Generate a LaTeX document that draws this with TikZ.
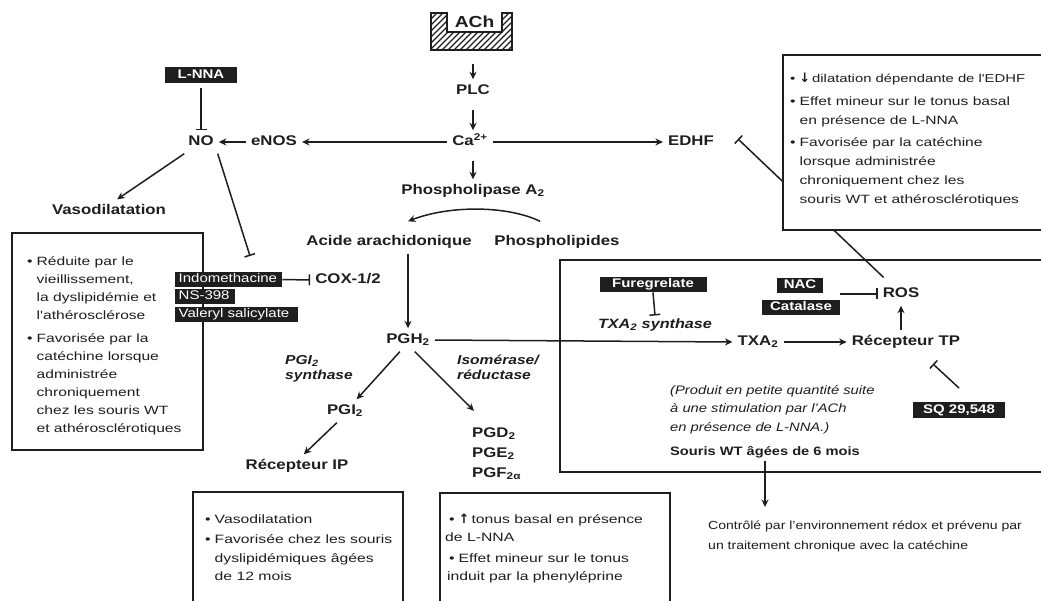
\documentclass[tikz,border=0pt]{standalone}
\usepackage{fontspec}
\setmainfont{Liberation Sans}[FakeStretch=1.2]
\newfontfamily\notefont{Liberation Sans}[FakeStretch=1.3]
\newfontfamily\arrowfont{DejaVu Sans}
\usetikzlibrary{arrows.meta,calc}
\definecolor{ink}{HTML}{1E1E1E}
\newcommand\bulitem{•\hspace{4pt}}
\newcommand\bulcont{\phantom{•}\hspace{4pt}}

\begin{document}
\begin{tikzpicture}[x=1pt,y=-1pt,
  every node/.style={text=ink},
  lbl/.style={font=\fontsize{14}{16}\selectfont\bfseries, text height=10pt, text depth=3pt, inner xsep=5pt, inner ysep=5pt},
  itl/.style={font=\fontsize{13}{15.5}\selectfont\bfseries\itshape, inner sep=0pt, anchor=base west},
  blk/.style={fill=ink, text=white, font=\fontsize{12.5}{14}\selectfont\bfseries, text height=9pt, text depth=2.5pt, inner xsep=0pt, inner ysep=2pt},
  blkr/.style={blk, font=\fontsize{12.5}{14}\selectfont, anchor=west, inner xsep=3.5pt},
  frame/.style={draw=ink, line width=1.4pt},
  boxtxt/.style={inner sep=0pt, anchor=base west},
  conn/.style={draw=ink, line width=1.5pt},
  arr/.style={conn, -{Stealth[length=7.5pt,width=7pt]}},
  inh/.style={conn, -{Bar[width=11pt]}},
]
\useasboundingbox (0,0) rectangle (1041,601);
\clip (0,0) rectangle (1041,601);

% ---------- left commentary box (under the COX inhibitor labels) ----------
\draw[frame, fill=white] (12,233) rectangle (203,450);
\node[boxtxt, font=\notefont\fontsize{12}{18}\selectfont] (nonote) at (27,266)
  {\begin{tabular}[t]{@{}l@{}}
  \bulitem Réduite par le\\
  \bulcont vieillissement,\\
  \bulcont la dyslipidémie et\\
  \bulcont l'athérosclérose\\[5pt]
  \bulitem Favorisée par la\\
  \bulcont catéchine lorsque\\
  \bulcont administrée\\
  \bulcont chroniquement\\
  \bulcont chez les souris WT\\
  \bulcont et athérosclérotiques
  \end{tabular}};

% ---------- receptor block with ACh ----------
\node[minimum width=81pt, minimum height=37pt, inner sep=0pt] (achbox) at (471.5,31.5) {};
\begin{scope}
  \clip (achbox.north west) -- ++(16,0) -- ++(0,19) -- ++(55,0) -- ++(0,-19)
        -- (achbox.north east) -- (achbox.south east) -- (achbox.south west) -- cycle;
  \foreach \i in {376,382,...,520} \draw[ink, line width=1.3pt] (\i,56) -- ++(50,-50);
\end{scope}
\draw[ink, line width=1.5pt] (achbox.north west) -- ++(16,0) -- ++(0,19) -- ++(55,0) -- ++(0,-19)
      -- (achbox.north east) -- (achbox.south east) -- (achbox.south west) -- cycle;
\node[font=\fontsize{16}{18}\selectfont\bfseries, inner sep=0pt] (ach) at (474.5,22) {ACh};

% ---------- main cascade ----------
\node[lbl] (plc)  at (473,91)  {PLC};
\node[lbl] (ca)   at (470,142) {Ca\textsuperscript{2+}};
\node[lbl] (pla)  at (473,191) {Phospholipase A\textsubscript{2}};
\node[lbl] (aa)   at (389,242) {Acide arachidonique};
\node[lbl] (pl)   at (557,242) {Phospholipides};
\node[lbl] (cox)  at (348,280) {COX-1/2};
\node[lbl] (pgh)  at (408,340) {PGH\textsubscript{2}};
\node[lbl] (pgi)  at (345,411) {PGI\textsubscript{2}};
\node[lbl] (rip)  at (297,466) {Récepteur IP};
\node[inner sep=3pt, anchor=base west, font=\fontsize{14}{20}\selectfont\bfseries] (pgd) at (469,437)
  {\begin{tabular}[t]{@{}l@{}}PGD\textsubscript{2}\\PGE\textsubscript{2}\\PGF\textsubscript{2α}\end{tabular}};
\coordinate (pgdin) at ($(pgd.north west)+(5,-9)$);

\node[itl] (pgisyn) at (285,364) {\begin{tabular}[t]{@{}l@{}}PGI\textsubscript{2}\\synthase\end{tabular}};
\node[itl] (isom)   at (457,364) {\begin{tabular}[t]{@{}l@{}}Isomérase/\\réductase\end{tabular}};

% ---------- NO branch ----------
\node[lbl] (no)   at (201,142) {NO};
\node[lbl] (enos) at (274,142) {eNOS};
\node[blk, minimum width=72pt] (lnna) at (201,75) {L-NNA};
\node[lbl] (vaso) at (109,211) {Vasodilatation};

% ---------- COX inhibitors ----------
\node[blkr, minimum width=107pt, text width=100pt] (indo)  at (175,279.5) {Indomethacine};
\node[blkr, minimum width=60pt,  text width=53pt]  (ns)    at (175,296.5) {NS-398};
\node[blkr, minimum width=123pt, text width=116pt] (valer) at (175,314.5) {Valeryl salicylate};

% ---------- EDHF ----------
\node[lbl] (edhf) at (691,142) {EDHF};

% ---------- thromboxane block ----------
\draw[frame] (560,260) rectangle (1060,472);
\node[lbl] (txa) at (758,342) {TXA\textsubscript{2}};
\node[lbl] (rtp) at (906,342) {Récepteur TP};
\node[lbl] (ros) at (901,294) {ROS};
\node[blk, minimum width=46pt] (nac) at (800,285.5) {NAC};
\node[blk, minimum width=78pt] (cat) at (801,307.5) {Catalase};
\node[blk, minimum width=107pt] (fur) at (653,284.5) {Furegrelate};
\node[font=\fontsize{13.5}{16}\selectfont\bfseries\itshape, inner xsep=4pt, inner ysep=3pt] (txs) at (655,325) {TXA\textsubscript{2} synthase};
\node[blk, minimum width=92pt] (sq) at (959,410) {SQ 29,548};
\node[boxtxt, font=\fontsize{12.3}{18.5}\selectfont\itshape] (prod) at (670,394)
  {\begin{tabular}[t]{@{}l@{}}(Produit en petite quantité suite\\à une stimulation par l'ACh\\en présence de L-NNA.)\end{tabular}};
\node[font=\fontsize{12.2}{14}\selectfont\bfseries, inner sep=3pt] (souris) at (765,452) {Souris WT âgées de 6 mois};
\node[boxtxt, font=\fontsize{11.7}{20}\selectfont] (ctrl) at (708,529)
  {\begin{tabular}[t]{@{}l@{}}Contrôlé par l'environnement rédox et prévenu par\\un traitement chronique avec la catéchine\end{tabular}};
\coordinate (ctrltop) at (765,507);

% ---------- connectors ----------
\draw[arr, shorten <=14pt] (achbox.south -| plc.north) -- (plc.north);
\draw[arr, shorten <=7pt] (plc.south) -- (plc.south |- ca.north);
\draw[arr, shorten <=7pt] (pla.north |- ca.south) -- (pla.north);
\draw[arr] ($(pl.north)+(-17,-9)$) .. controls ($(pl.north)+(-50,-25)$) and ($(aa.north)+(60,-25)$) .. ($(aa.north)+(19,-9)$);
\draw[arr] (aa.south -| pgh.north) -- (pgh.north);
\draw[arr] (ca.west) -- (enos.east);
\draw[arr] (enos.west) -- (no.east);
\draw[arr] (ca.east) -- (edhf.west);
\draw[inh, shorten <=5pt] (lnna.south) -- (no.north);
\draw[arr] (no.215) -- (vaso.55);
\coordinate (noinh) at (250,256);
\draw[inh] (no.325) -- (noinh);
\draw[inh] (indo.east) -- (cox.west);
\draw[arr] (pgh.east) -- (txa.west);
\draw[arr] (txa.east) -- (rtp.west);
\draw[arr] (ros.south |- rtp.north) -- (ros.south);
\draw[inh] (cat.east |- ros.west) -- (ros.west);
\draw[inh] (fur.south) -- (txs.north);
\coordinate (tpinh) at (933,364);
\draw[inh] ($(sq.north)+(0,-14)$) -- (tpinh);
\draw[arr] (pgh.235) -- (pgi.45);
\draw[arr] (pgh.300) -- (pgdin);
\draw[arr] (pgi.235) -- (rip.60);
\draw[arr] (souris.south) -- (ctrltop);
\coordinate (edhfinh) at (738,139);
\draw[inh, shorten <=24pt] (ros.center) -- (edhfinh);

% ---------- EDHF commentary box (covers the ROS connector) ----------
\draw[frame, fill=white] (783,55) rectangle (1060,230);
\node[boxtxt, font=\notefont\fontsize{12}{19}\selectfont] (edhfnote) at (790,83)
  {\begin{tabular}[t]{@{}l@{}}
  {\fontsize{11.4}{19}\selectfont\bulitem{\arrowfont\bfseries\fontsize{13}{19}\selectfont ↓}\,dilatation dépendante de l'EDHF}\\[3.5pt]
  \bulitem Effet mineur sur le tonus basal\\
  \bulcont en présence de L-NNA\\[3.5pt]
  \bulitem Favorisée par la catéchine\\
  \bulcont lorsque administrée\\
  \bulcont chroniquement chez les\\
  \bulcont souris WT et athérosclérotiques
  \end{tabular}};

% ---------- bottom commentary boxes ----------
\draw[frame, fill=white] (193,492) rectangle (403,620);
\node[boxtxt, font=\notefont\fontsize{12.1}{18.5}\selectfont] (ipnote) at (205,523)
  {\begin{tabular}[t]{@{}l@{}}
  \bulitem Vasodilatation\\[2pt]
  \bulitem Favorisée chez les souris\\
  \bulcont dyslipidémiques âgées\\
  \bulcont de 12 mois
  \end{tabular}};

\draw[frame, fill=white] (440,493) rectangle (670,620);
\node[boxtxt, font=\notefont\fontsize{12.1}{18.5}\selectfont] (pgdnote) at (445,523)
  {\begin{tabular}[t]{@{}l@{}}
  \hspace{4pt}\bulitem{\arrowfont\bfseries\fontsize{13}{18.5}\selectfont ↑}\,tonus basal en présence\\
  de L-NNA\\[2pt]
  \hspace{4pt}\bulitem Effet mineur sur le tonus\\
  \hspace{2pt}induit par la phenyléprine
  \end{tabular}};
\end{tikzpicture}
\end{document}
